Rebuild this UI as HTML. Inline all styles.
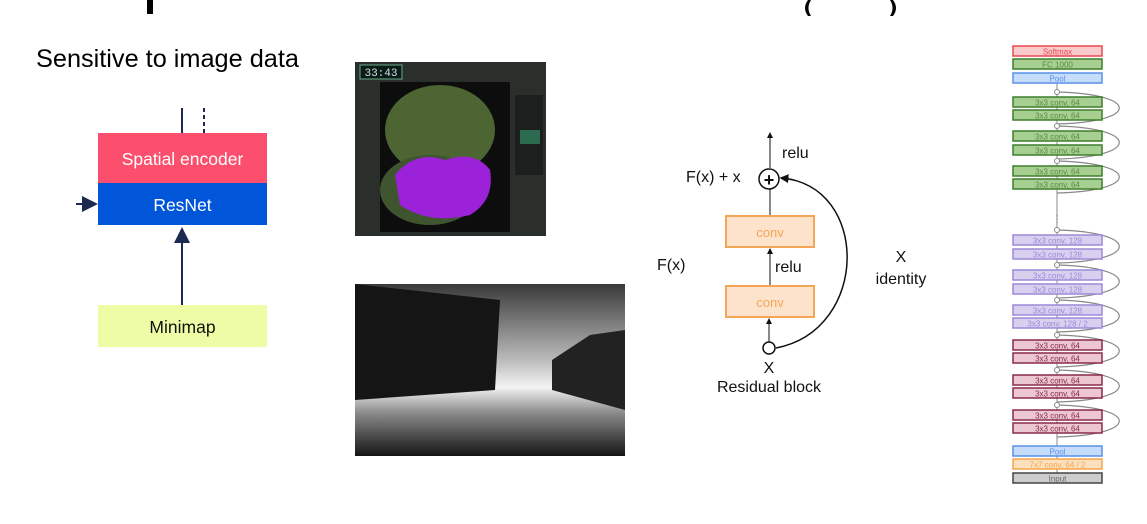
<!DOCTYPE html>
<html><head><meta charset="utf-8"><style>
body{margin:0;width:1147px;height:524px;overflow:hidden;background:#fff;font-family:"Liberation Sans",sans-serif;}
svg{position:absolute;left:0;top:0}
</style></head><body>
<svg width="1147" height="524" viewBox="0 0 1147 524">
<defs>
<marker id="ah" markerWidth="8" markerHeight="8" refX="7" refY="4" orient="auto"><path d="M0,0 L8,4 L0,8 z" fill="#1c2a52"/></marker>
<marker id="ak" markerWidth="6" markerHeight="6" refX="5" refY="3" orient="auto"><path d="M0,0 L6,3 L0,6 z" fill="#111"/></marker>
<linearGradient id="depth" x1="0" y1="0" x2="0" y2="1"><stop offset="0" stop-color="#3a3a3a"/><stop offset="0.45" stop-color="#bdbdbd"/><stop offset="0.6" stop-color="#f4f4f4"/><stop offset="0.75" stop-color="#8a8a8a"/><stop offset="1" stop-color="#151515"/></linearGradient>
</defs>
<g fill="#000">
<rect x="147" y="0" width="6" height="14"/><path d="M808,0 q-6,8 0,16 l3,0 q-5,-8 0,-16z"/><path d="M893,0 q6,8 0,16 l-3,0 q5,-8 0,-16z"/></g>
<text x="36" y="67" font-size="25.3" fill="#000">Sensitive to image data</text>
<g>
<line x1="182" y1="108" x2="182" y2="133" stroke="#1c2a52" stroke-width="2"/>
<line x1="204" y1="108" x2="204" y2="133" stroke="#1c2a52" stroke-width="2" stroke-dasharray="4,3"/>
<rect x="98" y="133" width="169" height="50" fill="#fb4f6d"/>
<text x="182.5" y="165" font-size="17.5" fill="#fff" text-anchor="middle">Spatial encoder</text>
<rect x="98" y="183" width="169" height="42" fill="#0055d9"/>
<text x="182.5" y="211" font-size="17.5" fill="#fff" text-anchor="middle">ResNet</text>
<line x1="76" y1="204" x2="96" y2="204" stroke="#1c2a52" stroke-width="2" marker-end="url(#ah)"/>
<line x1="182" y1="305" x2="182" y2="229" stroke="#1c2a52" stroke-width="2" marker-end="url(#ah)"/>
<rect x="98" y="305" width="169" height="42" fill="#effca6"/>
<text x="182.5" y="333" font-size="17.5" fill="#111" text-anchor="middle">Minimap</text>
</g>
<g>
<rect x="355" y="62" width="191" height="174" fill="#2b2f2c"/>
<rect x="380" y="82" width="130" height="150" fill="#0d0d0d"/>
<ellipse cx="440" cy="130" rx="55" ry="45" fill="#4d6433"/>
<ellipse cx="430" cy="190" rx="50" ry="35" fill="#3f5530"/>
<path d="M395,175 q20,-25 50,-15 q30,-10 45,10 q5,30 -20,45 q-40,10 -70,-10z" fill="#9b22d8"/>
<rect x="360" y="65" width="42" height="14" fill="#0c1a16" stroke="#6a8" stroke-width="1"/>
<text x="381" y="76" font-size="11" fill="#cde" text-anchor="middle" font-family="Liberation Mono,monospace">33:43</text>
<rect x="515" y="95" width="28" height="80" fill="#1c1f1e"/>
<rect x="520" y="130" width="20" height="14" fill="#2c6b4f"/>
</g>
<g>
<rect x="355" y="284" width="270" height="172" fill="url(#depth)"/>
<path d="M355,284 L500,300 L495,390 L355,400z" fill="#151515"/>
<path d="M625,330 L590,335 L552,360 L552,390 L625,410z" fill="#222"/>
</g>
<g font-size="16" fill="#111">
<line x1="770" y1="168" x2="770" y2="133" stroke="#111" stroke-width="1" marker-end="url(#ak)"/>
<text x="782" y="158">relu</text>
<text x="686" y="182">F(x) + x</text>
<circle cx="769" cy="179" r="10" fill="#fff" stroke="#111" stroke-width="1.5"/>
<text x="769" y="186" text-anchor="middle" font-size="18" font-weight="bold">+</text>
<line x1="770" y1="216" x2="770" y2="189" stroke="#111"/>
<rect x="726" y="216" width="88" height="31" fill="#fde3cc" stroke="#f5a556" stroke-width="2"/>
<text x="770" y="237" text-anchor="middle" font-size="13" fill="#f5a556">conv</text>
<line x1="770" y1="286" x2="770" y2="249" stroke="#111" marker-end="url(#ak)"/>
<text x="775" y="272">relu</text>
<text x="657" y="270">F(x)</text>
<rect x="726" y="286" width="88" height="31" fill="#fde3cc" stroke="#f5a556" stroke-width="2"/>
<text x="770" y="307" text-anchor="middle" font-size="13" fill="#f5a556">conv</text>
<line x1="769" y1="342" x2="769" y2="319" stroke="#111" marker-end="url(#ak)"/>
<circle cx="769" cy="348" r="6" fill="#fff" stroke="#111" stroke-width="1.5"/>
<path d="M776,348 C870,330 870,185 781,178" fill="none" stroke="#111" stroke-width="1.5" marker-end="url(#ak)"/>
<text x="901" y="262" text-anchor="middle">X</text>
<text x="901" y="284" text-anchor="middle">identity</text>
<text x="769" y="373" text-anchor="middle">X</text>
<text x="769" y="392" text-anchor="middle">Residual block</text>
</g>
<g id="resnet"></g>
</svg>
<script>
const labels=["Softmax","FC 1000","Pool","3x3 conv, 64","3x3 conv, 64","3x3 conv, 64","3x3 conv, 64","3x3 conv, 64","3x3 conv, 64","3x3 conv, 128","3x3 conv, 128","3x3 conv, 128","3x3 conv, 128","3x3 conv, 128","3x3 conv, 128 / 2","3x3 conv, 64","3x3 conv, 64","3x3 conv, 64","3x3 conv, 64","3x3 conv, 64","3x3 conv, 64","Pool","7x7 conv, 64 / 2","Input"];
const tops=[46,59,73,97,110,131,145,166,179,235,249,270,284,305,318,340,353,375,388,410,423,446,459,473];
const kinds=["r","g","b","g","g","g","g","g","g","p","p","p","p","p","p","m","m","m","m","m","m","b","o","k"];
const pal={r:["#f9c9cc","#e8474f","#e8474f"],g:["#a6cf91","#3f7f2a","#5a8a45"],b:["#c6dcfb","#5a90e8","#5a90e8"],p:["#d9d0f0","#9a8ad8","#9a8ad8"],m:["#ecc7d2","#8a2a4a","#8a2a4a"],o:["#fde0bd","#f5a54a","#f5a54a"],k:["#cccccc","#444","#666"]};
const g=document.getElementById('resnet');const NS="http://www.w3.org/2000/svg";
function mk(t,a){const e=document.createElementNS(NS,t);for(const k in a)e.setAttribute(k,a[k]);g.appendChild(e);return e;}
const l=mk('line',{x1:1057,y1:82,x2:1057,y2:473,stroke:'#888','stroke-width':1});


for(let i=3;i<21;i+=2){const y1=tops[i]-5,y2=tops[i+1]+14;
const p=mk('path',{d:`M1057,${y1} C1140,${y1+2} 1140,${y2-2} 1057,${y2}`,fill:'none',stroke:'#888','stroke-width':1.2});


const c=mk('circle',{cx:1057,cy:y1,r:2.5,fill:'#fff',stroke:'#888'});

}
labels.forEach((t,i)=>{const c=pal[kinds[i]];
const r=mk('rect',{x:1013,y:tops[i],width:89,height:10,fill:c[0],stroke:c[1],'stroke-width':1.5});


const tx=mk('text',{x:1057.5,y:tops[i]+8.5,'font-size':8,'text-anchor':'middle',fill:c[2]});tx.textContent=t;

});
const d=mk('text',{x:1057,y:222,'font-size':10,'text-anchor':'middle',fill:'#666'});d.textContent="⋮";


</script>
</body></html>
